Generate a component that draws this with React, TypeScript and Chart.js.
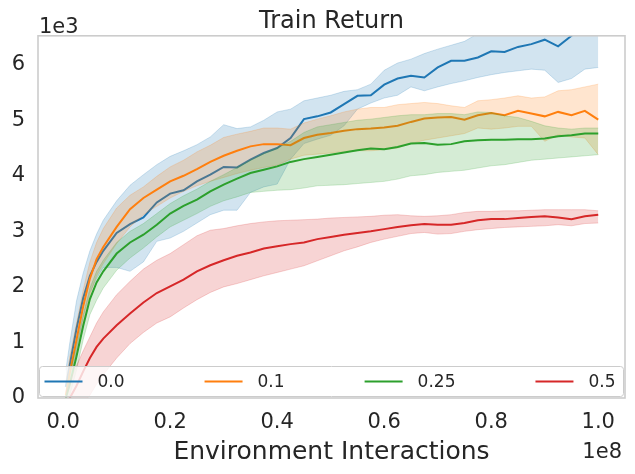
import React, { useEffect, useRef } from "react";
import { Chart, registerables } from "chart.js";

Chart.register(...registerables);

// x in units of 1e8 environment interactions, y in units of 1e3 return
const X_STEPS = [0.005, 0.0125, 0.025, 0.0375, 0.05, 0.0625, 0.075, 0.1, 0.125, 0.15, 0.175, 0.2, 0.225, 0.25, 0.275, 0.3, 0.325, 0.35, 0.375, 0.4, 0.425, 0.45, 0.475, 0.5, 0.525, 0.55, 0.575, 0.6, 0.625, 0.65, 0.675, 0.7, 0.725, 0.75, 0.775, 0.8, 0.825, 0.85, 0.875, 0.9, 0.925, 0.95, 0.975, 1.0];

const BLUE_MEAN = [0.2, 0.6, 1.25, 1.8, 2.2, 2.45, 2.65, 2.97, 3.13, 3.25, 3.52, 3.68, 3.74, 3.9, 4.02, 4.16, 4.15, 4.29, 4.41, 4.5, 4.68, 5.02, 5.07, 5.14, 5.29, 5.44, 5.45, 5.64, 5.75, 5.8, 5.77, 5.95, 6.07, 6.07, 6.13, 6.24, 6.23, 6.32, 6.37, 6.45, 6.33, 6.52, 6.7, 6.8];
const BLUE_HI = [0.5, 1.0, 1.75, 2.25, 2.65, 2.95, 3.2, 3.55, 3.83, 4.02, 4.2, 4.35, 4.45, 4.56, 4.7, 4.92, 4.85, 4.88, 5.0, 5.15, 5.2, 5.35, 5.4, 5.45, 5.52, 5.55, 5.65, 5.9, 6.03, 6.1, 6.2, 6.28, 6.35, 6.42, 6.56, 6.75, 6.9, 7.0, 7.0, 7.1, 7.1, 7.1, 7.1, 7.1];
const BLUE_LO = [0.0, 0.3, 0.85, 1.45, 1.9, 2.15, 2.35, 2.35, 2.28, 2.45, 2.82, 2.88, 3.0, 3.15, 3.3, 3.38, 3.38, 3.7, 3.8, 3.85, 4.3, 4.58, 4.66, 4.73, 4.9, 5.2, 5.31, 5.4, 5.45, 5.6, 5.53, 5.6, 5.66, 5.71, 5.77, 5.82, 5.86, 5.89, 5.92, 5.9, 5.68, 5.75, 5.92, 5.95];

const ORANGE_MEAN = [0.05, 0.45, 1.05, 1.65, 2.15, 2.5, 2.72, 3.08, 3.4, 3.6, 3.75, 3.9, 4.0, 4.12, 4.25, 4.36, 4.45, 4.53, 4.57, 4.57, 4.55, 4.68, 4.74, 4.77, 4.81, 4.84, 4.85, 4.87, 4.9, 4.97, 5.03, 5.05, 5.06, 5.01, 5.09, 5.13, 5.09, 5.17, 5.12, 5.07, 5.15, 5.09, 5.17, 5.01];
const ORANGE_HI = [0.3, 0.75, 1.35, 1.95, 2.45, 2.8, 3.05, 3.42, 3.65, 3.8, 3.99, 4.16, 4.28, 4.43, 4.55, 4.69, 4.75, 4.8, 4.86, 4.86, 4.84, 4.95, 5.02, 5.08, 5.15, 5.2, 5.23, 5.23, 5.28, 5.3, 5.32, 5.3, 5.26, 5.23, 5.35, 5.37, 5.4, 5.44, 5.4, 5.42, 5.53, 5.55, 5.6, 5.65];
const ORANGE_LO = [0.0, 0.2, 0.75, 1.35, 1.85, 2.2, 2.42, 2.78, 3.08, 3.3, 3.45, 3.6, 3.72, 3.82, 3.9, 3.97, 4.04, 4.1, 4.15, 4.19, 4.3, 4.37, 4.39, 4.41, 4.44, 4.45, 4.45, 4.47, 4.5, 4.58, 4.64, 4.68, 4.72, 4.76, 4.86, 4.84, 4.86, 4.89, 4.89, 4.62, 4.74, 4.7, 4.68, 4.38];

const GREEN_MEAN = [0.0, 0.25, 0.75, 1.3, 1.78, 2.08, 2.28, 2.6, 2.8, 2.94, 3.12, 3.32, 3.46, 3.57, 3.72, 3.84, 3.95, 4.05, 4.11, 4.17, 4.25, 4.3, 4.34, 4.38, 4.42, 4.46, 4.49, 4.48, 4.52, 4.58, 4.59, 4.56, 4.57, 4.62, 4.64, 4.65, 4.65, 4.66, 4.66, 4.67, 4.71, 4.73, 4.76, 4.76];
const GREEN_HI = [0.2, 0.45, 0.95, 1.5, 1.98, 2.28, 2.48, 2.8, 3.0, 3.14, 3.32, 3.5, 3.64, 3.76, 3.9, 4.02, 4.15, 4.28, 4.4, 4.5, 4.62, 4.78, 4.88, 4.92, 4.96, 5.0, 5.02, 5.05, 5.08, 5.1, 5.1, 5.12, 5.12, 5.1, 5.15, 5.14, 5.08, 5.05, 4.98, 4.9, 4.86, 4.84, 4.86, 4.86];
const GREEN_LO = [0.0, 0.05, 0.5, 1.05, 1.5, 1.76, 1.98, 2.3, 2.52, 2.7, 2.9, 3.08, 3.2, 3.32, 3.45, 3.55, 3.62, 3.7, 3.72, 3.74, 3.75, 3.78, 3.82, 3.83, 3.84, 3.86, 3.88, 3.9, 3.94, 4.0, 4.02, 4.06, 4.08, 4.1, 4.14, 4.18, 4.2, 4.24, 4.28, 4.3, 4.32, 4.34, 4.36, 4.38];

const RED_MEAN = [-0.15, 0.0, 0.22, 0.48, 0.72, 0.92, 1.07, 1.31, 1.52, 1.72, 1.89, 2.01, 2.13, 2.28, 2.39, 2.48, 2.56, 2.62, 2.69, 2.73, 2.77, 2.8, 2.86, 2.9, 2.94, 2.97, 3.0, 3.04, 3.08, 3.11, 3.13, 3.12, 3.12, 3.15, 3.2, 3.22, 3.22, 3.24, 3.26, 3.27, 3.25, 3.22, 3.27, 3.3];
const RED_HI = [0.1, 0.3, 0.58, 0.85, 1.1, 1.35, 1.55, 1.86, 2.1, 2.32, 2.48, 2.6, 2.76, 2.92, 3.02, 3.05, 3.1, 3.14, 3.17, 3.19, 3.2, 3.21, 3.22, 3.24, 3.25, 3.26, 3.27, 3.29, 3.3, 3.28, 3.27, 3.28, 3.3, 3.34, 3.36, 3.36, 3.37, 3.37, 3.38, 3.39, 3.39, 3.39, 3.39, 3.37];
const RED_LO = [-0.4, -0.3, -0.2, -0.1, 0.05, 0.25, 0.42, 0.72, 0.98, 1.18, 1.35, 1.46, 1.62, 1.77, 1.9, 2.0, 2.06, 2.13, 2.2, 2.26, 2.32, 2.38, 2.47, 2.56, 2.65, 2.72, 2.8, 2.86, 2.91, 2.96, 2.98, 2.95, 2.96, 3.0, 3.03, 3.05, 3.07, 3.08, 3.09, 3.1, 3.12, 3.1, 3.14, 3.15];

const SERIES_LABELS = ["0.0", "0.1", "0.25", "0.5"];
const SERIES_COLORS = ["#1f77b4", "#ff7f0e", "#2ca02c", "#d62728"];
const SERIES_MEANS = [BLUE_MEAN, ORANGE_MEAN, GREEN_MEAN, RED_MEAN];
const SERIES_HIS = [BLUE_HI, ORANGE_HI, GREEN_HI, RED_HI];
const SERIES_LOS = [BLUE_LO, ORANGE_LO, GREEN_LO, RED_LO];

const X_TICKS = [0, 0.2, 0.4, 0.6, 0.8, 1.0];
const Y_TICKS = [0, 1, 2, 3, 4, 5, 6];
const X_MIN = -0.047;
const X_MAX = 1.05;
const Y_MIN = 0;
const Y_MAX = 6.52;

const FONT = "'DejaVu Sans', sans-serif";
const TEXT_COLOR = "#262626";
const EDGE_COLOR = "#cccccc";

function rgba(hex: string, a: number) {
  const n = parseInt(hex.slice(1), 16);
  return `rgba(${(n >> 16) & 255},${(n >> 8) & 255},${n & 255},${a})`;
}

function pts(ys: number[]) {
  return X_STEPS.map((x, i) => ({ x, y: ys[i] }));
}

const decorPlugin = {
  id: "decor",
  afterDatasetsDraw(chart: any) {
    const { ctx, chartArea: a } = chart;
    const left = a.left + 1.5;
    const right = a.right - 1.5;
    const bottom = a.bottom - 1.5;
    const top = bottom - 30;
    ctx.save();
    ctx.beginPath();
    const r = 3;
    ctx.moveTo(left + r, top);
    ctx.lineTo(right - r, top);
    ctx.quadraticCurveTo(right, top, right, top + r);
    ctx.lineTo(right, bottom - r);
    ctx.quadraticCurveTo(right, bottom, right - r, bottom);
    ctx.lineTo(left + r, bottom);
    ctx.quadraticCurveTo(left, bottom, left, bottom - r);
    ctx.lineTo(left, top + r);
    ctx.quadraticCurveTo(left, top, left + r, top);
    ctx.closePath();
    ctx.fillStyle = "rgba(255,255,255,0.8)";
    ctx.fill();
    ctx.lineWidth = 1;
    ctx.strokeStyle = EDGE_COLOR;
    ctx.stroke();

    ctx.font = `17px ${FONT}`;
    const handle = 38;
    const pad = 15;
    const startX = left + 5;
    const endX = right - 8;
    const widths = SERIES_LABELS.map((l) => handle + pad + ctx.measureText(l).width);
    const total = widths.reduce((s, w) => s + w, 0);
    const sep = (endX - startX - total) / (SERIES_LABELS.length - 1);
    const cy = (top + bottom) / 2;
    let x = startX;
    SERIES_LABELS.forEach((label, i) => {
      ctx.beginPath();
      ctx.strokeStyle = SERIES_COLORS[i];
      ctx.lineWidth = 2;
      ctx.moveTo(x, cy);
      ctx.lineTo(x + handle, cy);
      ctx.stroke();
      ctx.fillStyle = TEXT_COLOR;
      ctx.textBaseline = "middle";
      ctx.textAlign = "left";
      ctx.fillText(label, x + handle + pad, cy + 1);
      x += widths[i] + sep;
    });
    ctx.restore();
  },
  afterDraw(chart: any) {
    const { ctx, chartArea: a } = chart;
    ctx.save();
    ctx.strokeStyle = EDGE_COLOR;
    ctx.lineWidth = 1.6;
    ctx.strokeRect(a.left, a.top, a.right - a.left, a.bottom - a.top);
    ctx.fillStyle = TEXT_COLOR;
    ctx.font = `21px ${FONT}`;
    ctx.textBaseline = "alphabetic";
    ctx.textAlign = "left";
    ctx.fillText("1e3", a.left + 1, a.top - 3);
    ctx.textAlign = "right";
    ctx.fillText("1e8", a.right - 3, 458);
    ctx.restore();
  },
};

export default function App() {
  const ref = useRef<HTMLCanvasElement | null>(null);

  useEffect(() => {
    document.body.style.margin = "0";
    const canvas = ref.current;
    if (!canvas) return;
    const datasets: any[] = [];
    let order = 100;
    SERIES_LABELS.forEach((label, i) => {
      const c = SERIES_COLORS[i];
      datasets.push({
        label: label + " lo",
        data: pts(SERIES_LOS[i]),
        borderColor: rgba(c, 0.25),
        borderWidth: 0.8,
        pointRadius: 0,
        fill: false,
        order: order--,
      });
      datasets.push({
        label: label + " hi",
        data: pts(SERIES_HIS[i]),
        borderColor: rgba(c, 0.25),
        borderWidth: 0.8,
        backgroundColor: rgba(c, 0.2),
        pointRadius: 0,
        fill: "-1",
        order: order--,
      });
      datasets.push({
        label,
        data: pts(SERIES_MEANS[i]),
        borderColor: c,
        borderWidth: 2,
        pointRadius: 0,
        fill: false,
        order: order--,
      });
    });

    const chart = new Chart(canvas, {
      type: "line",
      data: { datasets },
      options: {
        animation: false,
        responsive: false,
        devicePixelRatio: 1,
        events: [],
        layout: { padding: { left: 0, right: 10, top: 0, bottom: 0 } },
        plugins: {
          legend: { display: false },
          tooltip: { enabled: false },
          title: {
            display: true,
            fullSize: false,
            text: "Train Return",
            color: TEXT_COLOR,
            font: { family: FONT, size: 24, weight: "normal" },
            padding: { top: 7, bottom: 0 },
          },
        },
        scales: {
          x: {
            type: "linear",
            min: X_MIN,
            max: X_MAX,
            afterBuildTicks: (s: any) => {
              s.ticks = X_TICKS.map((v) => ({ value: v }));
            },
            afterFit: (s: any) => {
              s.height = 76;
            },
            ticks: {
              color: TEXT_COLOR,
              font: { family: FONT, size: 21 },
              padding: 12,
              autoSkip: false,
              maxRotation: 0,
              callback: (v: any) => Number(v).toFixed(1),
            },
            grid: { display: false, drawTicks: false },
            border: { display: false },
            title: {
              display: true,
              text: "Environment Interactions",
              color: TEXT_COLOR,
              font: { family: FONT, size: 25 },
              padding: { top: 0, bottom: 7 },
            },
          },
          y: {
            type: "linear",
            min: Y_MIN,
            max: Y_MAX,
            afterBuildTicks: (s: any) => {
              s.ticks = Y_TICKS.map((v) => ({ value: v }));
            },
            afterFit: (s: any) => {
              s.width = 38;
            },
            ticks: {
              color: TEXT_COLOR,
              font: { family: FONT, size: 21 },
              padding: 13,
              callback: (v: any) => String(v),
            },
            grid: { display: false, drawTicks: false },
            border: { display: false },
          },
        },
      },
      plugins: [decorPlugin],
    } as any);
    return () => chart.destroy();
  }, []);

  return (
    <div style={{ position: "absolute", left: 0, top: 0, width: 635, height: 474, background: "#fff" }}>
      <canvas ref={ref} width={635} height={474} />
    </div>
  );
}
